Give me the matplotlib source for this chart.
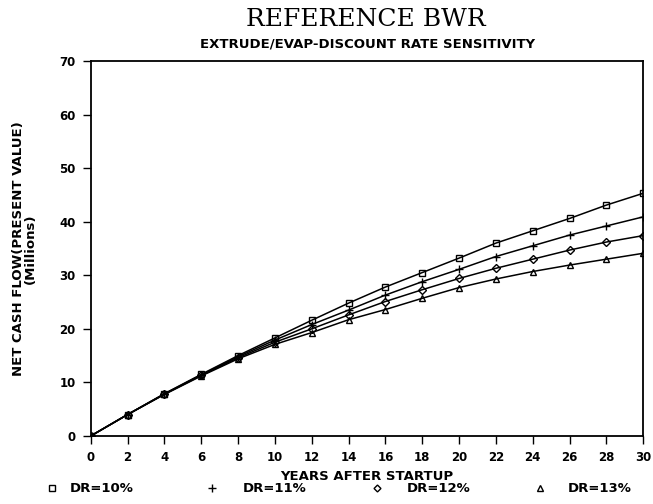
import matplotlib
matplotlib.use("Agg")
import matplotlib.pyplot as plt
from matplotlib.lines import Line2D

years = [0, 2, 4, 6, 8, 10, 12, 14, 16, 18, 20, 22, 24, 26, 28, 30]
dr10 = [0, 4.0, 7.9, 11.5, 15.0, 18.3, 21.6, 24.8, 27.8, 30.5, 33.2, 36.0, 38.3, 40.6, 43.1, 45.3]
dr11 = [0, 4.0, 7.85, 11.4, 14.8, 17.9, 20.8, 23.5, 26.3, 28.8, 31.1, 33.5, 35.5, 37.5, 39.2, 40.9]
dr12 = [0, 4.0, 7.8, 11.3, 14.6, 17.5, 20.0, 22.6, 25.1, 27.3, 29.4, 31.3, 33.0, 34.7, 36.2, 37.4]
dr13 = [0, 4.0, 7.75, 11.2, 14.4, 17.1, 19.3, 21.7, 23.6, 25.7, 27.7, 29.3, 30.7, 31.9, 33.0, 34.1]
labels = ["DR=10%", "DR=11%", "DR=12%", "DR=13%"]
xticks = list(range(0, 31, 2))
yticks = list(range(0, 71, 10))

fig = plt.figure(figsize=(6.53, 5.04), dpi=100)
ax = fig.add_axes([0.139, 0.135, 0.846, 0.744])

series = [dr10, dr11, dr12, dr13]
markers = ["s", "+", "D", "^"]
sizes = [5, 6, 4, 5]
for s, m, ms, lab in zip(series, markers, sizes, labels):
    ax.plot(years, s, color="black", lw=1.1, marker=m, ms=ms,
            mfc="none", mec="black", mew=1.0, label=lab)

ax.set_xlim(0, 30)
ax.set_ylim(0, 70)
ax.set_xticks(xticks)
ax.set_yticks(yticks)
ax.tick_params(direction="out", length=6, width=1, labelsize=8.5, pad=5)
for lbl in ax.get_xticklabels() + ax.get_yticklabels():
    lbl.set_fontweight("bold")
for sp in ax.spines.values():
    sp.set_linewidth(1.3)

ax.set_xlabel("YEARS AFTER STARTUP", fontsize=9.5, fontweight="bold", labelpad=4)
ax.set_ylabel("NET CASH FLOW(PRESENT VALUE)\n(Millions)", fontsize=9.5,
              fontweight="bold", labelpad=16, linespacing=0.9)

fig.text(0.56, 0.962, "REFERENCE BWR", ha="center", va="center",
         family="DejaVu Serif", fontsize=18)
fig.text(0.563, 0.912, "EXTRUDE/EVAP-DISCOUNT RATE SENSITIVITY", ha="center",
         va="center", fontsize=9.5, fontweight="bold")

# legend drawn by hand along the bottom
mark_x = [52, 212, 377, 540]
text_x = [70, 243, 407, 568]
ly = 1 - 488 / 504
for mx, tx, m, ms, lab in zip(mark_x, text_x, markers, sizes, labels):
    fig.add_artist(Line2D([mx / 653], [ly], transform=fig.transFigure,
                          marker=m, ms=ms - 0.5, mfc="none", mec="black",
                          mew=1.0, ls="none"))
    fig.text(tx / 653, ly, lab, ha="left", va="center", fontsize=9.5,
             fontweight="bold")

fig.savefig("out.png", dpi=100)
